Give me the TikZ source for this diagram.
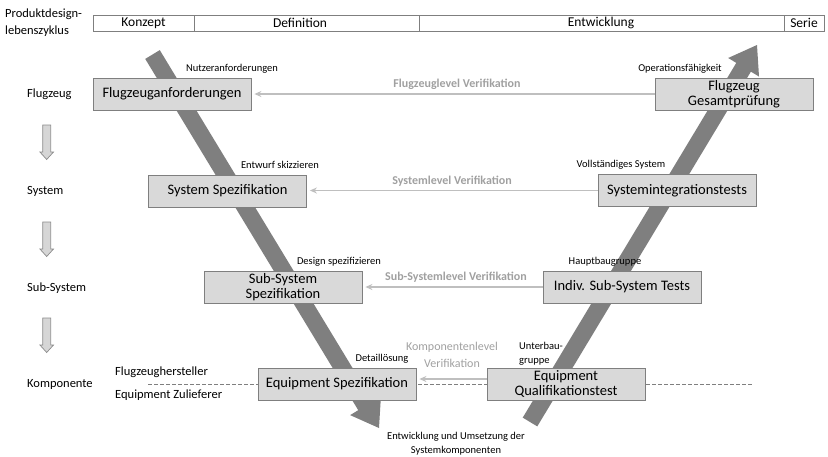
\documentclass[tikz,border=0pt]{standalone}
\usepackage{fontspec}
\setmainfont{Carlito}
\usetikzlibrary{calc,arrows.meta}
\definecolor{boxfill}{HTML}{D9D9D9}
\definecolor{boxline}{HTML}{7F7F7F}
\definecolor{vshaft}{HTML}{7F7F7F}
\definecolor{veriline}{HTML}{BFBFBF}
\definecolor{veritext}{HTML}{A0A0A0}
\definecolor{levelfill}{HTML}{D6D6D6}
\definecolor{levelline}{HTML}{8C8C8C}
\begin{document}
\begin{tikzpicture}[x=1pt,y=-1pt,
  stage/.style={draw=boxline, fill=boxfill, line width=0.8pt,
    minimum width=158pt, minimum height=32pt, inner sep=0pt, align=center,
    font=\fontsize{14.5}{15}\selectfont},
  rowlabel/.style={anchor=west, inner sep=0pt, font=\fontsize{12.5}{14}\selectfont},
  phase/.style={inner sep=0pt, font=\fontsize{13.5}{15}\selectfont},
  note/.style={inner sep=0pt, align=center, font=\fontsize{10.5}{12.5}\selectfont},
  veriarrow/.style={draw=veriline, line width=1.2pt,
    -{Stealth[length=7pt,width=6pt]}},
  verilabel/.style={inner sep=0pt, text=veritext, align=center,
    font=\fontsize{12}{14}\selectfont},
  vfill/.style={fill=vshaft},
  levelarrow/.style={draw=levelline, fill=levelfill, line width=0.7pt}
]
\useasboundingbox (0,0) rectangle (828,456);

% life-cycle bar
\node[inner sep=0pt, anchor=west, align=left, font=\fontsize{12.5}{16.5}\selectfont]
  (lc) at (5,22.5) {Produktdesign-\\lebenszyklus};
\draw[boxline, line width=0.8pt] (93,15) rectangle (824,31);
\draw[boxline, line width=0.8pt] (194,15) -- (194,31) (419,15) -- (419,31) (784,15) -- (784,31);
\node[phase] (p1) at (143.5,23) {Konzept};
\node[phase] (p2) at (300,23) {Definition};
\node[phase] (p3) at (601,23) {Entwicklung};
\node[phase] (p4) at (804,23) {Serie};

% level labels and downward arrows
\node[rowlabel] (f) at (27,94.5) {Flugzeug};
\node[rowlabel] (s) at (27,191) {System};
\node[rowlabel] (ss) at (27,288.5) {Sub-System};
\node[rowlabel] (k) at (27,384.5) {Komponente};
\foreach \t in {125,222,318}{
  \draw[levelarrow] (42.7,\t) -- (50.7,\t) -- (50.7,\t+27) -- (53.5,\t+27)
    -- (46.7,\t+34.5) -- (39.9,\t+27) -- (42.7,\t+27) -- cycle;
}

% manufacturer / supplier split
\node[anchor=west, inner sep=0pt, font=\fontsize{12.5}{14}\selectfont] (oem) at (115,372) {Flugzeughersteller};
\node[anchor=west, inner sep=0pt, font=\fontsize{12.5}{14}\selectfont] (sup) at (115,395.5) {Equipment Zulieferer};
\coordinate (dl) at (148,384);
\coordinate (dr) at (753,384);
\draw[boxline, line width=0.7pt, dash pattern=on 3.5pt off 2.5pt] (dl) -- (dr);

% the two legs of the V
\coordinate (LS) at (152.5,54.5);
\coordinate (LT) at (379,428);
\coordinate (LB) at ($(LT)!26pt!(LS)$);
\fill[vfill] ($(LS)!8.5pt!90:(LT)$) -- ($(LB)!8.5pt!-90:(LS)$) -- ($(LB)!18pt!-90:(LS)$)
  -- (LT) -- ($(LB)!18pt!90:(LS)$) -- ($(LB)!8.5pt!90:(LS)$) -- ($(LS)!8.5pt!-90:(LT)$) -- cycle;
\coordinate (RS) at (530,422);
\coordinate (RT) at (757,45);
\coordinate (RB) at ($(RT)!26pt!(RS)$);
\fill[vfill] ($(RS)!8.5pt!90:(RT)$) -- ($(RB)!8.5pt!-90:(RS)$) -- ($(RB)!18pt!-90:(RS)$)
  -- (RT) -- ($(RB)!18pt!90:(RS)$) -- ($(RB)!8.5pt!90:(RS)$) -- ($(RS)!8.5pt!-90:(RT)$) -- cycle;

% specification side
\node[stage] (L1) at (172,94) {Flugzeuganforderungen};
\node[stage] (L2) at (227.5,191) {System Spezifikation};
\node[stage] (L3) at (283,287.5) {Sub-System\\Spezifikation};
\node[stage] (L4) at (337,384) {Equipment Spezifikation};
% verification side
\node[stage] (R1) at (734,94) {Flugzeug\\Gesamtprüfung};
\node[stage] (R2) at (677,190.5) {Systemintegrationstests};
\node[stage] (R3) at (622,287) {Indiv. Sub-System Tests};
\node[stage] (R4) at (566,384) {Equipment\\Qualifikationstest};

% verification links
\draw[veriarrow] (R1.west) -- ([xshift=3pt]L1.east);
\draw[veriarrow] (R2.west) -- ([xshift=3pt]L2.east |- R2.west);
\draw[veriarrow] (R3.west) -- ([xshift=3pt]L3.east |- R3.west);
\draw[veriarrow] ([yshift=5pt]R4.west) -- ([xshift=3pt,yshift=5pt]L4.east);
\node[verilabel, font=\fontsize{12}{14}\selectfont\bfseries] (v1) at (457,84) {Flugzeuglevel Verifikation};
\node[verilabel, font=\fontsize{12}{14}\selectfont\bfseries] (v2) at (452,181) {Systemlevel Verifikation};
\node[verilabel, font=\fontsize{12}{14}\selectfont\bfseries] (v3) at (456,277.5) {Sub-Systemlevel Verifikation};
\node[verilabel, font=\fontsize{12}{16.5}\selectfont] (v4) at (452,355) {Komponentenlevel\\Verifikation};

% stage notes
\node[note] (n1) at (232,69) {Nutzeranforderungen};
\node[note] (n2) at (280,164.5) {Entwurf skizzieren};
\node[note] (n3) at (339,262) {Design spezifizieren};
\node[note] (n4) at (382,359) {Detaillösung};
\node[note] (m1) at (680,69) {Operationsfähigkeit};
\node[note] (m2) at (621,164.5) {Vollständiges System};
\node[note] (m3) at (605,262) {Hauptbaugruppe};
\node[note, align=left, anchor=west, font=\fontsize{10.5}{14}\selectfont] (m4) at (519,353.5) {Unterbau-\\gruppe};
\node[note, font=\fontsize{10.5}{14}\selectfont] (bot) at (456,444) {Entwicklung und Umsetzung der\\Systemkomponenten};
\end{tikzpicture}
\end{document}
